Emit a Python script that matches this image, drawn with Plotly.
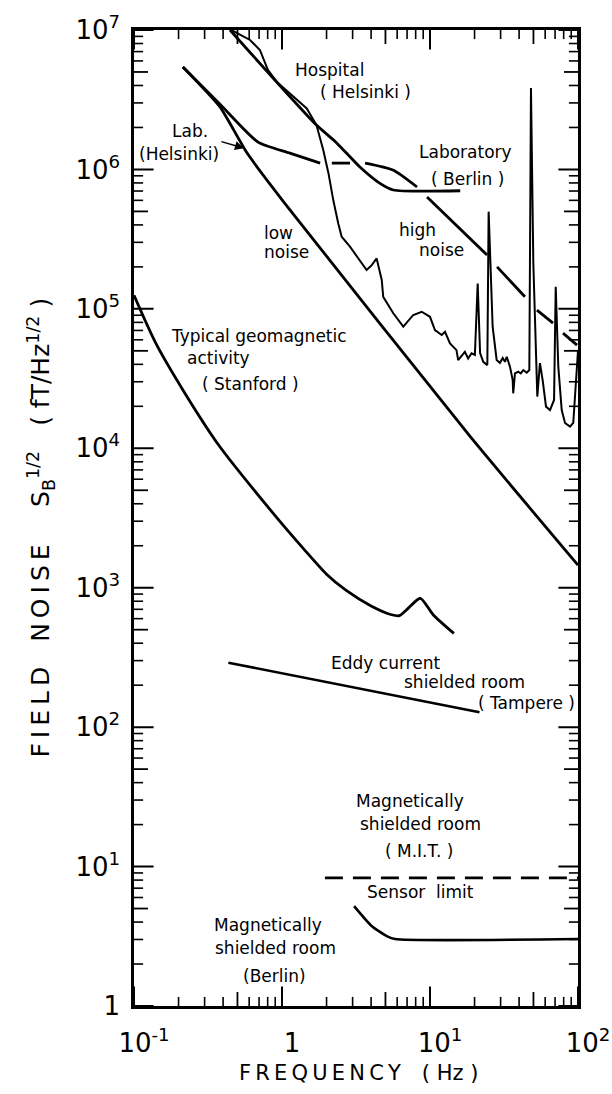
import numpy as np
import plotly.graph_objects as go

# ---------------- data (frequency in Hz, field noise in fT/Hz^1/2) ----------------
geo_f = [0.1, 0.14, 0.215, 0.372, 0.875, 1.4, 2.0, 2.7, 4.0, 5.5, 6.2, 7.2, 8.6, 10.5, 14.5]
geo_b = [1.25e5, 5.7e4, 2.6e4, 1.06e4, 3.4e3, 1.9e3, 1.25e3, 960, 740, 640, 630, 720, 840, 640, 470]

low_f = [0.214, 0.381, 0.581, 1.08, 18.6, 100]
low_b = [5.43e6, 2.81e6, 1.31e6, 5.46e5, 1.22e4, 1.45e3]

# Lab (Helsinki) curve continuing as the "high noise" line (broken where other curves cross)
labh_f = [0.214, 0.381, 0.689, 1.13, 1.81, None, 2.17, 2.88, None, 3.64, 5.62, 8.17, None,
          9.55, 24.3, None, 28.4, 43.8, None, 52.8, 67.8, None, 79.2, 98.5]
labh_b = [5.43e6, 2.94e6, 1.57e6, 1.31e6, 1.11e6, None, 1.11e6, 1.11e6, None, 1.11e6, 9.9e5, 7.48e5, None,
          6.34e5, 2.43e5, None, 2.0e5, 1.22e5, None, 9.8e4, 7.9e4, None, 6.7e4, 5.5e4]

berl_f = [0.445, 1.71, 2.34, 3.36, 4.59, 5.65, 16.0]
berl_b = [1.0e7, 2.08e6, 1.55e6, 1.04e6, 7.94e5, 7.12e5, 7.03e5]

hosp_f = [0.455, 0.608, 0.709, 0.803, 0.92, 1.19, 1.47, 1.71, 1.90, 2.06, 2.22, 2.40, 2.53, 2.88,
          3.20, 3.73, 4.04, 4.36, 4.72, 4.83, 5.65, 6.6, 7.71, 8.79, 10.0, 10.8, 12.0, 12.63,
          13.65, 15.1, 15.5, 17.2, 18.1, 19.1, 20.1, 21.0, 21.8, 22.9, 24.4, 24.9, 26.5, 28.2,
          29.7, 31.0, 32.1, 33.0, 34.7, 36.2, 36.5, 37.5, 39.5, 41.0, 42.7, 45.0, 46.9, 48.1,
          49.9, 52.0, 53.1, 55.3, 57.7, 60.8, 64.7, 68.9, 70.7, 73.6, 77.6, 81.7, 88.3, 92.9,
          96.8, 100]
hosp_b = [1.0e7, 8.48e6, 7.19e6, 5.17e6, 4.26e6, 3.33e6, 2.74e6, 2.08e6, 1.38e6, 9.4e5, 6.03e5, 4.1e5, 3.29e5, 2.79e5,
          2.37e5, 1.90e5, 2.06e5, 2.30e5, 1.61e5, 1.22e5, 9.3e4, 7.45e4, 9.04e4, 9.53e4, 8.77e4, 7.05e4, 6.49e4, 6.85e4,
          5.66e4, 5.06e4, 4.29e4, 4.92e4, 4.41e4, 4.8e4, 4.67e4, 1.52e5, 4.82e4, 4.17e4, 3.95e4, 4.98e5, 7.45e4, 4.3e4,
          4.1e4, 4.44e4, 4.17e4, 4.53e4, 3.85e4, 3.08e4, 2.48e4, 3.44e4, 3.54e4, 3.44e4, 3.64e4, 3.48e4, 3.64e4, 3.84e6,
          2.13e5, 5.35e4, 2.35e4, 4.08e4, 3.08e4, 1.99e4, 1.88e4, 2.22e4, 1.44e5, 3.85e4, 1.88e4, 1.52e4, 1.43e4, 1.52e4,
          3.08e4, 5.0e4]

tam_f = [0.434, 21.6]
tam_b = [290, 128]

sens_f = [1.95, 100]
sens_b = [8.3, 8.3]

msr_f = [3.07, 4.03, 5.14, 5.8, 100]
msr_b = [5.2, 3.75, 3.16, 3.02, 3.02]

x_tickvals = [0.1, 1, 10, 100]
x_ticktext = ["10<sup>-1</sup>", "1", "10<sup>1</sup>", "10<sup>2</sup>"]
y_tickvals = [1, 10, 1e2, 1e3, 1e4, 1e5, 1e6, 1e7]
y_ticktext = ["1", "10<sup>1</sup>", "10<sup>2</sup>", "10<sup>3</sup>", "10<sup>4</sup>",
              "10<sup>5</sup>", "10<sup>6</sup>", "10<sup>7</sup>"]
x_mid = [5 * 10.0 ** d for d in range(-1, 2)]
y_mid = [5 * 10.0 ** d for d in range(0, 7)]
x_minor = [k * 10.0 ** d for d in range(-1, 2) for k in (2, 3, 4, 6, 7, 8, 9)]
y_minor = [k * 10.0 ** d for d in range(0, 7) for k in (2, 3, 4, 6, 7, 8, 9)]
X_MIN, X_MAX, Y_MIN, Y_MAX = 0.1, 100, 1, 1e7

# text labels: (text, frequency, value, anchor)
labels = [
    ("Hospital", 2.11, 5.16e6, "center"),
    ("( Helsinki )", 3.64, 3.59e6, "center"),
    ("Lab.", 0.239, 1.88e6, "center"),
    ("(Helsinki)", 0.201, 1.29e6, "center"),
    ("Laboratory", 17.5, 1.33e6, "center"),
    ("( Berlin )", 17.8, 8.53e5, "center"),
    ("low", 0.733, 3.5e5, "left"),
    ("noise", 0.733, 2.55e5, "left"),
    ("high", 8.17, 3.67e5, "center"),
    ("noise", 11.9, 2.64e5, "center"),
    ("Typical geomagnetic", 0.70, 6.38e4, "center"),
    ("activity", 0.37, 4.44e4, "center"),
    ("( Stanford )", 0.608, 2.88e4, "center"),
    ("Eddy current", 4.97, 288, "center"),
    ("shielded room", 17.2, 210, "center"),
    ("( Tampere )", 45.2, 149, "center"),
    ("Magnetically", 7.33, 29.4, "center"),
    ("shielded room", 8.69, 20.1, "center"),
    ("( M.I.T. )", 8.43, 12.9, "center"),
    ("Sensor  limit", 8.69, 6.55, "center"),
    ("Magnetically", 0.803, 3.8, "center"),
    ("shielded room", 0.91, 2.6, "center"),
    ("(Berlin)", 0.883, 1.64, "center"),
]
# arrow from "Lab. (Helsinki)" label: head (frequency, value)
arrow_head = (0.553, 1.42e6)

FONT = "DejaVu Sans"
fig = go.Figure()

def add(f, b, width=2.8, shape="spline", dash="solid", smoothing=0.6):
    line = dict(color="black", width=width, dash=dash, shape=shape)
    if shape == "spline":
        line["smoothing"] = smoothing
    fig.add_trace(go.Scatter(x=f, y=b, mode="lines", line=line,
                             connectgaps=False, showlegend=False, hoverinfo="skip"))

add(geo_f, geo_b, width=2.8, smoothing=0.7)
add(low_f, low_b, width=2.8, smoothing=0.5)
add(labh_f, labh_b, width=2.8, smoothing=0.6)
add(berl_f, berl_b, width=2.8, smoothing=0.6)
add(hosp_f, hosp_b, width=2.0, shape="linear")
add(tam_f, tam_b, width=2.6, shape="linear")
add(sens_f, sens_b, width=2.6, shape="linear", dash="18px,10px")
add(msr_f, msr_b, width=2.6, smoothing=0.6)

# frame ticks drawn as line markers sitting on the frame (clipped to plot area => inside ticks)
def tick_marks(xs, ys, symbol, size, width):
    fig.add_trace(go.Scatter(x=xs, y=ys, mode="markers", cliponaxis=True,
                             marker=dict(symbol=symbol, size=size, color="black",
                                         line=dict(color="black", width=width)),
                             showlegend=False, hoverinfo="skip"))

for yedge in (Y_MIN, Y_MAX):
    tick_marks(x_minor, [yedge] * len(x_minor), "line-ns", 13, 1.6)
    tick_marks(x_mid, [yedge] * len(x_mid), "line-ns", 20, 1.8)
    tick_marks(x_tickvals, [yedge] * len(x_tickvals), "line-ns", 28, 2)
for xedge in (X_MIN, X_MAX):
    tick_marks([xedge] * len(y_minor), y_minor, "line-ew", 13, 1.6)
    tick_marks([xedge] * len(y_mid), y_mid, "line-ew", 20, 1.8)
    tick_marks([xedge] * len(y_tickvals), y_tickvals, "line-ew", 28, 2)

ann = []
for text, f, b, anchor in labels:
    ann.append(dict(x=np.log10(f), y=np.log10(b), xref="x", yref="y", text=text,
                    showarrow=False, xanchor=anchor, yanchor="middle",
                    font=dict(family=FONT, size=17, color="black")))
ann.append(dict(x=np.log10(arrow_head[0]), y=np.log10(arrow_head[1]), xref="x", yref="y",
                text="", showarrow=True, ax=-24, ay=-7, arrowhead=2, arrowsize=1.2,
                arrowwidth=1.5, arrowcolor="black", standoff=0))

ts = "\u2009"
ytitle = (ts.join("FIELD") + "\u2003" + ts.join("NOISE") + "\u2003\u2002S<sub>B</sub><sup>1/2</sup>\u2003"
          + "( fT/Hz<sup>1/2</sup> )")
xtitle = ts.join("FREQUENCY") + "\u2003( Hz )"
ann.append(dict(x=-0.21, y=0.49, xref="paper", yref="paper", text=ytitle, textangle=-90,
                showarrow=False, xanchor="center", yanchor="middle",
                font=dict(family=FONT, size=25, color="black")))
ann.append(dict(x=0.505, y=-0.069, xref="paper", yref="paper", text=xtitle,
                showarrow=False, xanchor="center", yanchor="middle",
                font=dict(family=FONT, size=21, color="black")))

axis_common = dict(type="log", showgrid=False, zeroline=False, showline=True,
                   linecolor="black", linewidth=2.5, mirror=True,
                   ticks="", showticklabels=True, tickmode="array",
                   tickfont=dict(family=FONT, size=26, color="black"))

fig.update_layout(template="none")
fig.update_xaxes(**axis_common, range=[np.log10(X_MIN), np.log10(X_MAX)],
                 tickvals=x_tickvals, ticktext=x_ticktext,
                 ticklabelshift=10, ticklabelstandoff=12)
fig.update_yaxes(**axis_common, range=[np.log10(Y_MIN), np.log10(Y_MAX)],
                 tickvals=y_tickvals, ticktext=y_ticktext, ticklabelstandoff=6)

fig.update_layout(width=612, height=1094, margin=dict(l=134, r=34, t=30, b=88),
                  paper_bgcolor="white", plot_bgcolor="white", annotations=ann,
                  showlegend=False)

fig.write_html("out.html")
